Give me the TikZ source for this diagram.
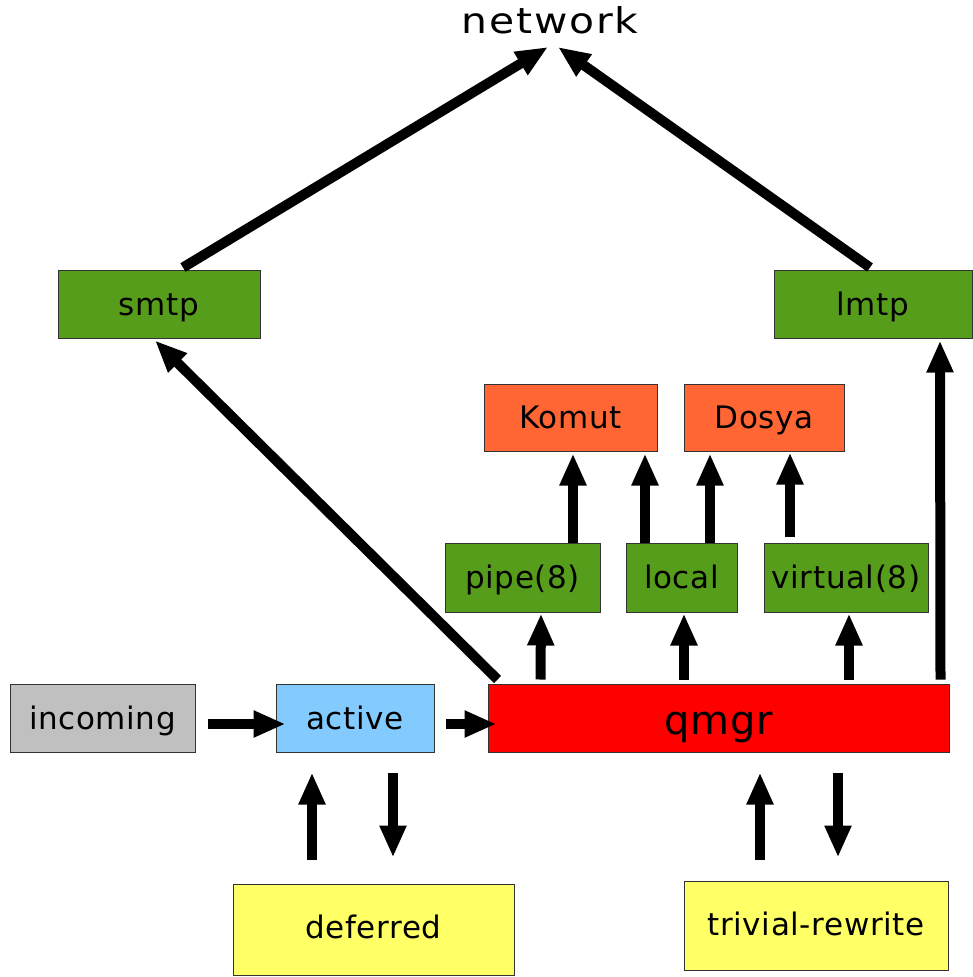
\documentclass[tikz,border=0pt]{standalone}
\usepackage{fontspec}
\setmainfont{DejaVu Sans}[LetterSpace=2]
\newfontfamily\netfont[FakeStretch=1.15,LetterSpace=5]{DejaVu Sans}
\usetikzlibrary{arrows.meta,calc}
\definecolor{boxgreen}{RGB}{87,157,28}
\definecolor{boxorange}{RGB}{255,102,51}
\definecolor{boxblue}{RGB}{131,202,255}
\definecolor{boxgray}{RGB}{192,192,192}
\definecolor{boxyellow}{RGB}{255,255,102}
\definecolor{boxred}{RGB}{255,0,0}
\definecolor{edgegray}{RGB}{51,51,51}
\tikzset{
  box/.style={draw=edgegray,line width=1pt,rectangle,inner sep=0pt,
    font=\fontsize{31}{36}\selectfont,text=black,text height=22pt,text depth=0pt},
  arr/.style={line width=10pt,-{Triangle[length=32pt,width=25pt]}}
}
\begin{document}
\begin{tikzpicture}[x=1pt,y=-1pt]
\useasboundingbox (0,0) rectangle (972,977);
\node[font=\netfont\fontsize{35.5}{40}\selectfont,inner sep=0pt] (network) at (550,20) {network};
\node[box,fill=boxgreen,minimum width=202pt,minimum height=68pt] (smtp) at (159,304) {smtp};
\node[box,fill=boxgreen,minimum width=198pt,minimum height=68pt] (lmtp) at (873,304) {lmtp};
\node[box,fill=boxorange,minimum width=173pt,minimum height=67pt] (komut) at (570.5,417.5) {Komut};
\node[box,fill=boxorange,minimum width=160pt,minimum height=67pt] (dosya) at (764,417.5) {Dosya};
\node[box,fill=boxgreen,minimum width=155pt,minimum height=69pt] (pipe) at (522.5,577.5) {pipe(8)};
\node[box,fill=boxgreen,minimum width=111pt,minimum height=69pt] (local) at (681.5,577.5) {local};
\node[box,fill=boxgreen,minimum width=164pt,minimum height=69pt] (virtual) at (846,577.5) {virtual(8)};
\node[box,fill=boxgray,minimum width=185pt,minimum height=68pt] (incoming) at (102.5,718) {incoming};
\node[box,fill=boxblue,minimum width=158pt,minimum height=68pt] (active) at (355,718) {active};
\node[box,fill=boxred,minimum width=461pt,minimum height=68pt,font=\fontsize{40}{44}\selectfont,text height=32pt] (qmgr) at (718.5,718) {qmgr};
\node[box,fill=boxyellow,minimum width=281pt,minimum height=91pt,text height=18pt] (deferred) at (373.5,929.5) {deferred};
\node[box,fill=boxyellow,minimum width=264pt,minimum height=89pt,text height=19pt] (trivial) at (816,925.5) {trivial-rewrite};
% connectors
\draw[arr] ($(smtp.north)+(24,-2)$) -- ($(network)+(-2,27)$);
\draw[arr] ($(lmtp.north)+(-3,-2)$) -- ($(network)+(8,27)$);
\draw[arr] ($(qmgr.north west)+(10,-4)$) -- ($(smtp.south)+(-4,2)$);
\draw[arr] ($(qmgr.north east)+(-9,-4)$) -- ($(lmtp.south)+(67,2)$);
\draw[arr] ($(pipe.north)+(50.5,0)$) -- ($(komut.south)+(2.5,2)$);
\draw[arr] ($(local.north)+(-36.5,0)$) -- ($(komut.south)+(74.5,2)$);
\draw[arr] ($(local.north)+(28.5,0)$) -- ($(dosya.south)+(-54,2)$);
\draw[arr] ($(virtual.north)+(-56,-6)$) -- ($(dosya.south)+(26,1)$);
\draw[arr] ($(qmgr.north west)+(53,-4)$) -- ($(pipe.south)+(18.5,1)$);
\draw[arr] ($(qmgr.north)+(-34.5,-4)$) -- ($(local.south)+(2.5,1)$);
\draw[arr] ($(qmgr.north)+(130.5,-4)$) -- ($(virtual.south)+(3,1)$);
\draw[arr] ($(incoming.east)+(12,6)$) -- ($(active.west)+(10,6)$);
\draw[arr] ($(active.east)+(11,6)$) -- ($(qmgr.west)+(9,6)$);
\draw[arr] ($(deferred.north)+(-61.5,-24)$) -- ($(active.south)+(-43,20)$);
\draw[arr] ($(active.south)+(38,20)$) -- ($(deferred.north)+(19.5,-26)$);
\draw[arr] ($(trivial.north)+(-56,-21)$) -- ($(qmgr.south)+(41.5,20)$);
\draw[arr] ($(qmgr.south)+(119.5,20)$) -- ($(trivial.north)+(22,-23)$);
\end{tikzpicture}
\end{document}
